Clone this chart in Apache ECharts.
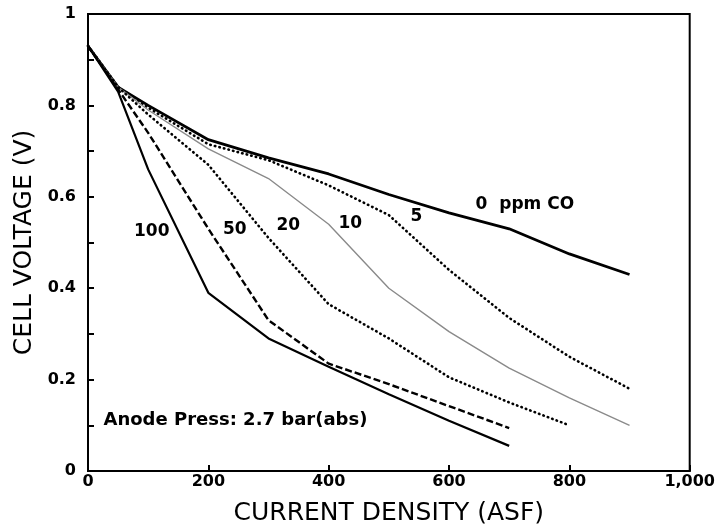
<!DOCTYPE html>
<html>
<head>
<meta charset="utf-8">
<script src="https://cdn.jsdelivr.net/npm/echarts@6/dist/echarts.min.js"></script>
<style>
  html, body { margin: 0; padding: 0; background: #fff; }
  #chart { width: 718px; height: 531px; }
</style>
</head>
<body>
<div id="chart"></div>
<script>
// current density (ASF)
const currentDensity = [0, 50, 100, 200, 300, 400, 500, 600, 700, 800, 900];

// cell voltage (V) per CO level
const ppm0   = [0.93, 0.84, 0.80, 0.725, 0.685, 0.65, 0.605, 0.565, 0.53, 0.475, 0.43];
const ppm5   = [0.93, 0.84, 0.795, 0.715, 0.68, 0.625, 0.56, 0.44, 0.335, 0.25, 0.18];
const ppm10  = [0.93, 0.84, 0.79, 0.705, 0.64, 0.54, 0.40, 0.305, 0.225, 0.16, 0.10];
const ppm20  = [0.93, 0.84, 0.78, 0.67, 0.51, 0.365, 0.29, 0.205, 0.15, 0.10];
const ppm50  = [0.93, 0.835, 0.74, 0.53, 0.33, 0.235, 0.19, 0.142, 0.094];
const ppm100 = [0.93, 0.83, 0.66, 0.39, 0.29, 0.228, 0.168, 0.11, 0.055];

// text placed on the plot, in data coordinates
const noteTexts = ['100', '50', '20', '10', '5', '0  ppm CO', 'Anode Press: 2.7 bar(abs)'];
const noteX     = [106, 244, 333, 436, 546, 726, 245];
const noteY     = [0.523, 0.529, 0.536, 0.542, 0.556, 0.584, 0.111];

const pairs = (ys) => ys.map((y, i) => [currentDensity[i], y]);

const font = 'DejaVu Sans';

const myChart = echarts.init(document.getElementById('chart'));

myChart.setOption({
  animation: false,
  backgroundColor: '#fff',
  grid: {
    left: 88, right: 27, top: 14, bottom: 58,
    show: true, borderColor: '#000', borderWidth: 2
  },
  xAxis: {
    type: 'value',
    min: 0, max: 1000, interval: 200,
    name: 'CURRENT DENSITY (ASF)',
    nameLocation: 'middle',
    nameGap: 30,
    nameTextStyle: { fontFamily: font, fontSize: 25, color: '#000' },
    axisLine: { show: true, lineStyle: { color: '#000', width: 2 } },
    axisTick: { inside: true, length: 6, lineStyle: { color: '#000', width: 2 } },
    axisLabel: {
      fontFamily: font, fontSize: 16, fontWeight: 'bold', color: '#000', margin: 3,
      formatter: (v) => (v === 1000 ? '1,000' : String(v))
    },
    splitLine: { show: false }
  },
  yAxis: {
    type: 'value',
    min: 0, max: 1, interval: 0.1,
    name: 'CELL VOLTAGE (V)',
    nameLocation: 'middle',
    nameGap: 48,
    nameTextStyle: { fontFamily: font, fontSize: 25, color: '#000' },
    axisLine: { show: true, lineStyle: { color: '#000', width: 2 } },
    axisTick: { inside: true, length: 6, lineStyle: { color: '#000', width: 2 } },
    axisLabel: {
      fontFamily: font, fontSize: 16, fontWeight: 'bold', color: '#000', margin: 12,
      formatter: (v) => (Math.round(v * 10) % 2 ? '' : String(Math.round(v * 10) / 10))
    },
    splitLine: { show: false }
  },
  series: [
    {
      name: '0 ppm', type: 'line', data: pairs(ppm0), showSymbol: false,
      lineStyle: { color: '#000', width: 2.8 }
    },
    {
      name: '5 ppm', type: 'line', data: pairs(ppm5), showSymbol: false,
      lineStyle: { color: '#000', width: 2.6, type: [0.5, 4.2], cap: 'round' }
    },
    {
      name: '10 ppm', type: 'line', data: pairs(ppm10), showSymbol: false,
      lineStyle: { color: '#8a8a8a', width: 1.4 }
    },
    {
      name: '20 ppm', type: 'line', data: pairs(ppm20), showSymbol: false,
      lineStyle: { color: '#000', width: 2.6, type: [0.5, 4.2], cap: 'round' }
    },
    {
      name: '50 ppm', type: 'line', data: pairs(ppm50), showSymbol: false,
      lineStyle: { color: '#000', width: 2.4, type: [7, 3] }
    },
    {
      name: '100 ppm', type: 'line', data: pairs(ppm100), showSymbol: false,
      lineStyle: { color: '#000', width: 2.2 }
    },
    {
      name: 'notes', type: 'scatter', symbolSize: 0, silent: true,
      itemStyle: { opacity: 1 },
      data: noteTexts.map((t, i) => ({
        value: [noteX[i], noteY[i]],
        label: {
          show: true,
          position: 'inside',
          formatter: t,
          fontFamily: font,
          fontWeight: 'bold',
          fontSize: i === 6 ? 18 : 17,
          color: '#000'
        }
      }))
    }
  ]
});
</script>
</body>
</html>
